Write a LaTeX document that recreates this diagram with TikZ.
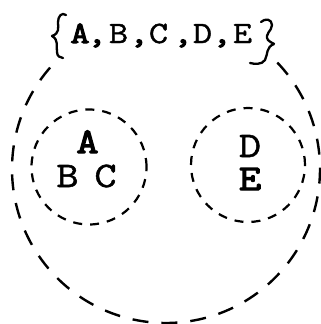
\documentclass[tikz,border=0pt]{standalone}
\usepackage{fontspec}
\setmonofont[FakeBold=1.4,FakeStretch=1.2,BoldFont=Latin Modern Mono,BoldFeatures={FakeBold=3.5}]{Latin Modern Mono}
\begin{document}
\begin{tikzpicture}[x=1pt,y=-1pt,
  outerdash/.style={line width=2.4pt,dash pattern=on 16pt off 13pt},
  innerdash/.style={line width=2.2pt,dash pattern=on 9pt off 8pt},
  typed/.style={font=\ttfamily\fontsize{31}{31}\selectfont,inner sep=0pt,anchor=base,text height=0.62em,text depth=0pt},
  letter/.style={font=\ttfamily\fontsize{36}{36}\selectfont,inner sep=0pt,anchor=base,text height=0.62em,text depth=0pt},
  bracestroke/.style={line width=2.3pt,line cap=round,line join=round}]
\useasboundingbox (0,0) rectangle (321,324);
% outer circle (open at top where the set is written)
\draw[outerdash] (166,169) ++(-43.7:154) arc[start angle=-43.7,end angle=222,radius=154];
% inner circles
\node[circle,draw,innerdash,minimum size=115pt] (left) at (89,167) {};
\node[circle,draw,innerdash,minimum size=114pt] (right) at (248,165) {};
% set label
\node[typed] (sA) at (80,43) {\textbf{A}};
\node[typed] (k1) at (97,43) {\textbf{,}};
\node[typed] (sB) at (118.5,43) {B};
\node[typed] (k2) at (139,43) {\textbf{,}};
\node[typed] (sC) at (158.5,43) {C};
\node[typed] (k3) at (183,43) {\textbf{,}};
\node[typed] (sD) at (202.5,43) {D};
\node[typed] (k4) at (222,43) {\textbf{,}};
\node[typed] (sE) at (242.5,43) {E};
% braces
\draw[bracestroke] (66,15) .. controls (62,12) and (58,16) .. (58,22)
  .. controls (58,28) and (60,33) .. (52,36)
  .. controls (59,40) and (56,46) .. (57,52)
  .. controls (57,56) and (60,58) .. (63,58);
\draw[bracestroke] (261,22) .. controls (265,18) and (272,19) .. (272,25)
  .. controls (272,31) and (264,34) .. (268,40)
  .. controls (271,43) and (275,44) .. (274,44)
  .. controls (266,47) and (268,54) .. (265,60)
  .. controls (262,65) and (254,64) .. (250,63);
% letters
\node[letter] (a) at (87.5,153) {\textbf{A}};
\node[letter] (b) at (67.5,187) {B};
\node[letter] (c) at (105.5,187) {C};
\node[letter] (d) at (250,157) {D};
\node[letter] (e) at (250,190) {\textbf{E}};
\end{tikzpicture}
\end{document}
